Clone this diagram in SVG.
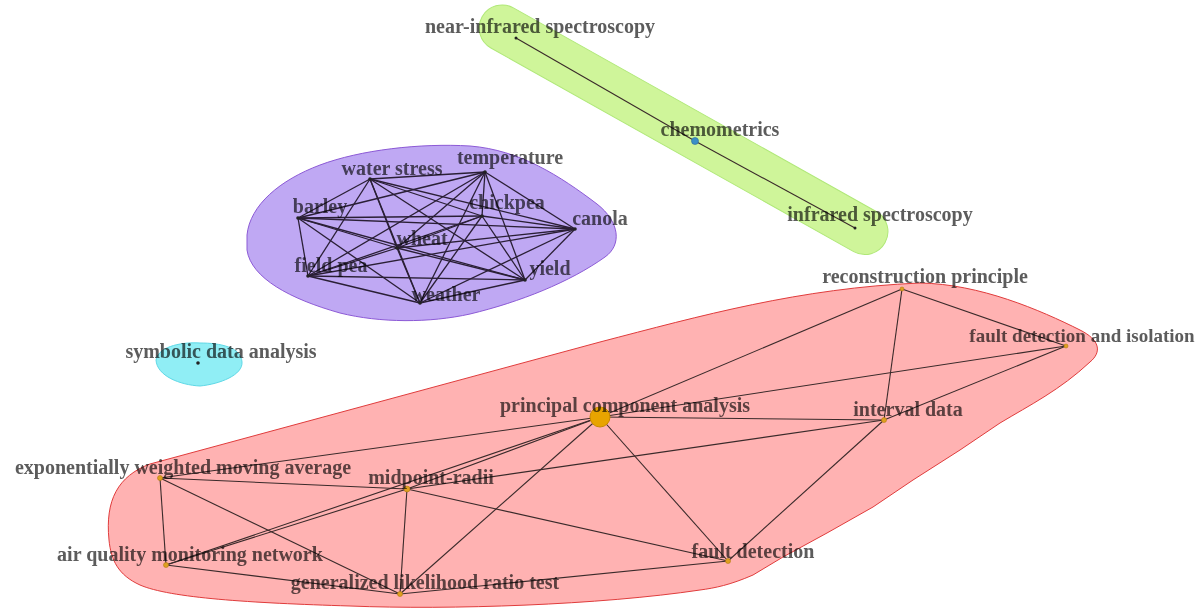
<svg xmlns="http://www.w3.org/2000/svg" width="1204" height="612" viewBox="0 0 1204 612">
<style>
.lbl{font-family:"Liberation Serif","Times New Roman",serif;font-weight:bold;font-size:20px;fill:#5c5c5c;text-anchor:middle;mix-blend-mode:multiply}
.e{stroke:#3a2a2a;stroke-width:1.1;fill:none}
.ep{stroke:#2a1f35;stroke-width:1.3;fill:none}
.dot{fill:#222}
.or{fill:#e0a020;stroke:#b07a10;stroke-width:0.6}
</style>
<rect width="1204" height="612" fill="#ffffff"/>
<g id="hulls">
<path id="hull-red" d="M109,540 C105,500 118,476 150,464 L600,342 C700,316 800,288 920,283 C980,284 1040,310 1080,330 C1100,340 1102,352 1090,362 C1060,390 1030,405 1000,423 L960,450 L913,480 L873,507 L827,533 L783,557 L753,575 C730,585 715,588 700,590 C600,605 450,610 350,606 C250,603 170,598 140,585 C118,575 111,560 109,540 Z" fill="#ffb2b2" stroke="#e03c3c" stroke-width="1"/>
<path id="hull-purple" d="M247,235 C250,205 280,180 320,165 C360,150 420,143 470,146 C520,150 560,176 597,204 C620,222 622,245 605,257 C570,282 520,302 470,314 C430,323 380,323 340,313 C290,299 251,278 247,250 Z" fill="#bfa8f3" stroke="#8c5ad6" stroke-width="1"/>
<rect id="hull-green" transform="translate(516,38) rotate(29.3)" x="-40" y="-25" width="462" height="46" rx="23" fill="#cff59a" stroke="#b0e878" stroke-width="1"/>
<path id="hull-cyan" d="M156,360 C159,345 185,342 200,343 C220,343 241,347 242,362 C243,375 220,384 200,386 C180,385 157,376 156,360 Z" fill="#90eef5" stroke="#5fd8e6" stroke-width="1"/>
</g>
<g id="connectors">
<line class="e" x1="516" y1="38" x2="695" y2="141"/>
<line class="e" x1="695" y1="141" x2="855" y2="228"/>
<g class="ep">
<line x1="370" y1="179" x2="485" y2="172"/>
<line x1="370" y1="179" x2="298" y2="218"/>
<line x1="370" y1="179" x2="482" y2="216"/>
<line x1="370" y1="179" x2="575" y2="229"/>
<line x1="370" y1="179" x2="397" y2="248"/>
<line x1="370" y1="179" x2="308" y2="276"/>
<line x1="370" y1="179" x2="525" y2="280"/>
<line x1="370" y1="179" x2="420" y2="303"/>
<line x1="485" y1="172" x2="298" y2="218"/>
<line x1="485" y1="172" x2="482" y2="216"/>
<line x1="485" y1="172" x2="575" y2="229"/>
<line x1="485" y1="172" x2="397" y2="248"/>
<line x1="485" y1="172" x2="308" y2="276"/>
<line x1="485" y1="172" x2="525" y2="280"/>
<line x1="485" y1="172" x2="420" y2="303"/>
<line x1="298" y1="218" x2="482" y2="216"/>
<line x1="298" y1="218" x2="575" y2="229"/>
<line x1="298" y1="218" x2="397" y2="248"/>
<line x1="298" y1="218" x2="308" y2="276"/>
<line x1="298" y1="218" x2="525" y2="280"/>
<line x1="298" y1="218" x2="420" y2="303"/>
<line x1="482" y1="216" x2="575" y2="229"/>
<line x1="482" y1="216" x2="397" y2="248"/>
<line x1="482" y1="216" x2="308" y2="276"/>
<line x1="482" y1="216" x2="525" y2="280"/>
<line x1="482" y1="216" x2="420" y2="303"/>
<line x1="575" y1="229" x2="397" y2="248"/>
<line x1="575" y1="229" x2="308" y2="276"/>
<line x1="575" y1="229" x2="525" y2="280"/>
<line x1="575" y1="229" x2="420" y2="303"/>
<line x1="397" y1="248" x2="308" y2="276"/>
<line x1="397" y1="248" x2="525" y2="280"/>
<line x1="397" y1="248" x2="420" y2="303"/>
<line x1="308" y1="276" x2="525" y2="280"/>
<line x1="308" y1="276" x2="420" y2="303"/>
<line x1="525" y1="280" x2="420" y2="303"/>
</g>
<g class="e">
<line x1="600" y1="417" x2="902" y2="289"/>
<line x1="600" y1="417" x2="1066" y2="346"/>
<line x1="600" y1="417" x2="884" y2="420"/>
<line x1="600" y1="417" x2="728" y2="561"/>
<line x1="600" y1="417" x2="400" y2="594"/>
<line x1="600" y1="417" x2="166" y2="565"/>
<line x1="600" y1="417" x2="160" y2="478"/>
<line x1="600" y1="417" x2="407" y2="489"/>
<line x1="160" y1="478" x2="407" y2="489"/>
<line x1="160" y1="478" x2="166" y2="565"/>
<line x1="160" y1="478" x2="400" y2="594"/>
<line x1="407" y1="489" x2="400" y2="594"/>
<line x1="407" y1="489" x2="884" y2="420"/>
<line x1="407" y1="489" x2="728" y2="561"/>
<line x1="407" y1="489" x2="166" y2="565"/>
<line x1="166" y1="565" x2="400" y2="594"/>
<line x1="400" y1="594" x2="728" y2="561"/>
<line x1="902" y1="289" x2="884" y2="420"/>
<line x1="902" y1="289" x2="1066" y2="346"/>
<line x1="884" y1="420" x2="1066" y2="346"/>
<line x1="884" y1="420" x2="728" y2="561"/>
</g>
</g>
<g id="n-nirs"><circle class="dot" cx="516" cy="38" r="1.5"/><text class="lbl" x="540" y="33">near-infrared spectroscopy</text></g>
<g id="n-chemometrics"><circle cx="695" cy="141" r="3.5" fill="#3a8fc8" stroke="#2a6a98" stroke-width="0.6"/><text class="lbl" x="720" y="136">chemometrics</text></g>
<g id="n-irs"><circle class="dot" cx="855" cy="228" r="1.5"/><text class="lbl" x="880" y="221">infrared spectroscopy</text></g>
<g id="n-water-stress"><circle class="dot" cx="370" cy="179" r="1.8"/><text class="lbl" x="392" y="175">water stress</text></g>
<g id="n-temperature"><circle class="dot" cx="485" cy="172" r="1.8"/><text class="lbl" x="510" y="164">temperature</text></g>
<g id="n-barley"><circle class="dot" cx="298" cy="218" r="1.8"/><text class="lbl" x="320" y="213">barley</text></g>
<g id="n-chickpea"><circle class="dot" cx="482" cy="216" r="1.8"/><text class="lbl" x="507" y="209">chickpea</text></g>
<g id="n-canola"><circle class="dot" cx="575" cy="229" r="1.8"/><text class="lbl" x="600" y="225">canola</text></g>
<g id="n-wheat"><circle class="dot" cx="397" cy="248" r="1.8"/><text class="lbl" x="422" y="245">wheat</text></g>
<g id="n-field-pea"><circle class="dot" cx="308" cy="276" r="1.8"/><text class="lbl" x="331" y="272">field pea</text></g>
<g id="n-yield"><circle class="dot" cx="525" cy="280" r="1.8"/><text class="lbl" x="550" y="275">yield</text></g>
<g id="n-weather"><circle class="dot" cx="420" cy="303" r="1.8"/><text class="lbl" x="446" y="301">weather</text></g>
<g id="n-symbolic"><circle class="dot" cx="198" cy="363" r="1.8"/><text class="lbl" x="221" y="358">symbolic data analysis</text></g>
<g id="n-pca"><circle cx="600" cy="417" r="10" fill="#e8a400" stroke="#c88a00" stroke-width="1"/><text class="lbl" x="625" y="412">principal component analysis</text></g>
<g id="n-reconstruction"><circle class="or" cx="902" cy="289" r="2"/><text class="lbl" x="925" y="283">reconstruction principle</text></g>
<g id="n-fdi"><circle class="or" cx="1066" cy="346" r="2"/><text class="lbl" x="1082" y="342" style="font-size:19px">fault detection and isolation</text></g>
<g id="n-interval"><circle class="or" cx="884" cy="420" r="2.5"/><text class="lbl" x="908" y="416">interval data</text></g>
<g id="n-midpoint"><circle class="or" cx="407" cy="489" r="3"/><text class="lbl" x="431" y="484">midpoint-radii</text></g>
<g id="n-ewma"><circle class="or" cx="160" cy="478" r="2.5"/><text class="lbl" x="183" y="474">exponentially weighted moving average</text></g>
<g id="n-aqmn"><circle class="or" cx="166" cy="565" r="2.5"/><text class="lbl" x="190" y="561">air quality monitoring network</text></g>
<g id="n-glrt"><circle class="or" cx="400" cy="594" r="2.5"/><text class="lbl" x="425" y="589">generalized likelihood ratio test</text></g>
<g id="n-fault-detection"><circle class="or" cx="728" cy="561" r="2.5"/><text class="lbl" x="753" y="558">fault detection</text></g>
</svg>
